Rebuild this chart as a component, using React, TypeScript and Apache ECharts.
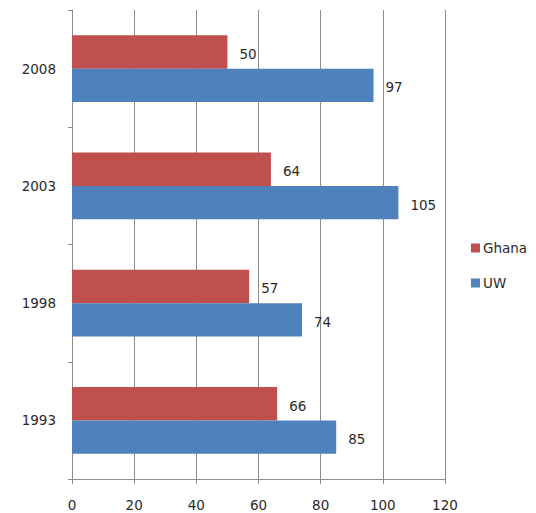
import React, { useEffect, useRef } from "react";
import * as echarts from "echarts";

const categories = ["1993", "1998", "2003", "2008"];
const ghana = [66, 57, 64, 50];
const uw = [85, 74, 105, 97];
const xTicks = [0, 20, 40, 60, 80, 100, 120];

const FONT = "DejaVu Sans";
const FS = 13.5;

export default function App() {
  const ref = useRef<HTMLDivElement>(null);
  useEffect(() => {
    const chart = echarts.init(ref.current!, null, { renderer: "svg" });
    const labelStyle = {
      show: true,
      position: "right" as const,
      distance: 12,
      offset: [0, 2],
      fontFamily: FONT,
      fontSize: FS,
      color: "#2a2a2a",
    };
    chart.setOption({
      animation: false,
      backgroundColor: "#fff",
      grid: { left: 72, right: 91, top: 10, bottom: 34, containLabel: false },
      legend: {
        orient: "vertical",
        left: 466,
        top: 236,
        itemWidth: 9,
        itemHeight: 9,
        itemGap: 21,
        icon: "rect",
        data: ["Ghana", "UW"],
        textStyle: { fontFamily: FONT, fontSize: FS, color: "#2a2a2a", padding: [0, 0, 0, -2] },
      },
      xAxis: {
        type: "value",
        min: xTicks[0],
        max: xTicks[xTicks.length - 1],
        interval: 20,
        axisLine: { show: true, lineStyle: { color: "#8c8c8c", width: 1 } },
        axisTick: { show: true, length: 5, lineStyle: { color: "#8c8c8c" } },
        splitLine: { show: true, lineStyle: { color: "#8c8c8c", width: 1 } },
        axisLabel: { fontFamily: FONT, fontSize: FS, color: "#2a2a2a", margin: 19 },
      },
      yAxis: {
        type: "category",
        data: categories,
        axisLine: { show: true, lineStyle: { color: "#8c8c8c", width: 1 } },
        axisTick: { show: true, length: 4, lineStyle: { color: "#8c8c8c" } },
        axisLabel: { fontFamily: FONT, fontSize: FS, color: "#2a2a2a", margin: 16 },
      },
      series: [
        {
          name: "Ghana",
          type: "bar",
          data: ghana,
          barGap: "0%",
          barCategoryGap: "43%",
          itemStyle: { color: "#C0504D" },
          label: labelStyle,
        },
        {
          name: "UW",
          type: "bar",
          data: uw,
          barGap: "0%",
          barCategoryGap: "43%",
          itemStyle: { color: "#4F81BD" },
          label: labelStyle,
        },
      ],
    });
    return () => chart.dispose();
  }, []);
  return (
    <div
      ref={ref}
      style={{ position: "absolute", left: 0, top: 0, width: 536, height: 513 }}
    />
  );
}
